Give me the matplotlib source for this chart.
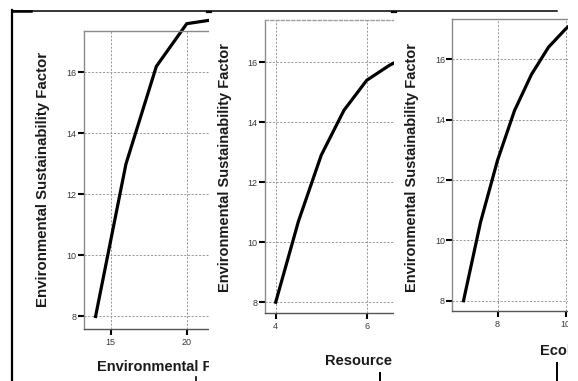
import matplotlib
matplotlib.use("Agg")
import matplotlib.pyplot as plt
from matplotlib.lines import Line2D
from matplotlib.patches import Rectangle

plt.rcParams['font.family'] = ['Liberation Sans', 'DejaVu Sans']

# ---------------- data ----------------
ylabel_text = "Environmental Sustainability Factor"
y_ticks = [8, 10, 12, 14, 16]

p1_xlabel = "Environmental Pressure"
p1_x = [14, 16, 18, 20, 22]
p1_y = [8.0, 13.0, 16.2, 17.6, 17.75]
p1_xticks = [15, 20]

p2_xlabel = "Resource Consumption"
p2_x = [4.0, 4.5, 5.0, 5.5, 6.0, 6.5, 7.0]
p2_y = [8.0, 10.7, 12.9, 14.4, 15.4, 15.9, 16.3]
p2_xticks = [4, 6]

p3_xlabel = "Ecological Footprint"
p3_x = [7.0, 7.5, 8.0, 8.5, 9.0, 9.5, 10.0, 10.5]
p3_y = [8.0, 10.6, 12.65, 14.3, 15.5, 16.4, 17.0, 17.5]
p3_xticks = [8, 10]

W, H = 578, 381
fig = plt.figure(figsize=(W / 100, H / 100), dpi=100)


def rect(l, t, r, b):
    return [l / W, 1 - b / H, (r - l) / W, (b - t) / H]


def fx(px):
    return px / W


def fy(py):
    return 1 - py / H


def style(ax, xticks, xlim, ylim, top_dashed=False):
    ax.set_xlim(*xlim)
    ax.set_ylim(*ylim)
    ax.set_xticks(xticks)
    ax.set_yticks(y_ticks)
    ax.set_xticklabels([str(t) for t in xticks])
    ax.set_yticklabels([str(t) for t in y_ticks])
    ax.grid(True, color='#9a9a9a', linestyle=(0, (2.2, 1.6)), linewidth=0.7)
    ax.set_axisbelow(True)
    for s in ax.spines.values():
        s.set_color('#8a8a8a')
        s.set_linewidth(1.0)
    ax.spines['bottom'].set_color('#555555')
    if top_dashed:
        ax.spines['top'].set_linestyle((0, (2.2, 1.6)))
        ax.spines['top'].set_color('#a0a0a0')
    ax.tick_params(axis='both', direction='out', length=4, width=1.5,
                   color='black', labelsize=6.5, labelcolor='#3a3a3a')
    ax.tick_params(axis='y', pad=1.2)
    ax.tick_params(axis='x', pad=2.5)


lw_curve = 2.3

# ---------------- panel 1 ----------------
ax1 = fig.add_axes(rect(84, 31, 260, 329), zorder=1)
style(ax1, p1_xticks, (13.24, 24.82), (7.59, 17.36))
ax1.plot(p1_x, p1_y, color='black', lw=lw_curve, clip_on=False,
         solid_joinstyle='miter')
ax1.text(fx(43), fy(179), ylabel_text, transform=fig.transFigure,
         rotation=90, ha='center', va='center', fontsize=10.8,
         fontweight='bold', color='#1a1a1a')
ax1.text(fx(97), fy(367), p1_xlabel, transform=fig.transFigure,
         ha='left', va='center', fontsize=10.5, fontweight='bold',
         color='#1a1a1a')

fig.add_artist(Line2D([fx(12.5), fx(12.5)], [fy(10), fy(381)],
                      color='black', lw=1.6, zorder=1.1))
fig.add_artist(Line2D([fx(195.5), fx(195.5)], [fy(377), fy(381)],
                      color='black', lw=1.2, zorder=1.1))

# cover for panel 2 screenshot
fig.add_artist(Rectangle((fx(209), 0), (394 - 209) / W, (381 - 12) / H,
                         transform=fig.transFigure, facecolor='white',
                         edgecolor='none', zorder=2))

# ---------------- panel 2 ----------------
ax2 = fig.add_axes(rect(265, 20, 440, 313.3), zorder=3)
style(ax2, p2_xticks, (3.765, 7.61), (7.63, 17.41), top_dashed=True)
ax2.plot(p2_x, p2_y, color='black', lw=lw_curve)
ax2.text(fx(225), fy(168), ylabel_text, transform=fig.transFigure,
         rotation=90, ha='center', va='center', fontsize=10.5,
         fontweight='bold', color='#1a1a1a')
ax2.text(fx(325), fy(361), p2_xlabel, transform=fig.transFigure,
         ha='left', va='center', fontsize=10.5, fontweight='bold',
         color='#1a1a1a')
fig.add_artist(Line2D([fx(379.5), fx(379.5)], [fy(373), fy(381)],
                      color='black', lw=1.4, zorder=3.1))

# cover for panel 3 screenshot
fig.add_artist(Rectangle((fx(394), 0), (W - 394) / W, (381 - 12) / H,
                         transform=fig.transFigure, facecolor='white',
                         edgecolor='none', zorder=4))

# ---------------- panel 3 ----------------
ax3 = fig.add_axes(rect(452.3, 18.5, 590, 310.7), zorder=5)
style(ax3, p3_xticks, (6.67, 10.72), (7.67, 17.35))
ax3.plot(p3_x, p3_y, color='black', lw=lw_curve)
ax3.text(fx(412), fy(167.5), ylabel_text, transform=fig.transFigure,
         rotation=90, ha='center', va='center', fontsize=10.5,
         fontweight='bold', color='#1a1a1a')
ax3.text(fx(540), fy(351), p3_xlabel, transform=fig.transFigure,
         ha='left', va='center', fontsize=10.5, fontweight='bold',
         color='#1a1a1a')
fig.add_artist(Line2D([fx(557), fx(557)], [fy(363), fy(381)],
                      color='black', lw=1.4, zorder=5.1))

# right edge crop
fig.add_artist(Rectangle((fx(568), 0), (W - 568) / W, (381 - 12) / H,
                         transform=fig.transFigure, facecolor='white',
                         edgecolor='none', zorder=6))

# top frame line
fig.add_artist(Line2D([fx(12), fx(557)], [fy(10.5), fy(10.5)],
                      color='black', lw=1.1, zorder=7))
fig.add_artist(Line2D([fx(12), fx(31)], [fy(11), fy(11)],
                      color='black', lw=1.8, zorder=7))
for mx in (209, 394):
    fig.add_artist(Line2D([fx(mx - 2), fx(mx + 2)], [fy(11.5), fy(11.5)],
                          color='black', lw=1.6, zorder=7))

fig.savefig("out.png", dpi=100, facecolor='white')
